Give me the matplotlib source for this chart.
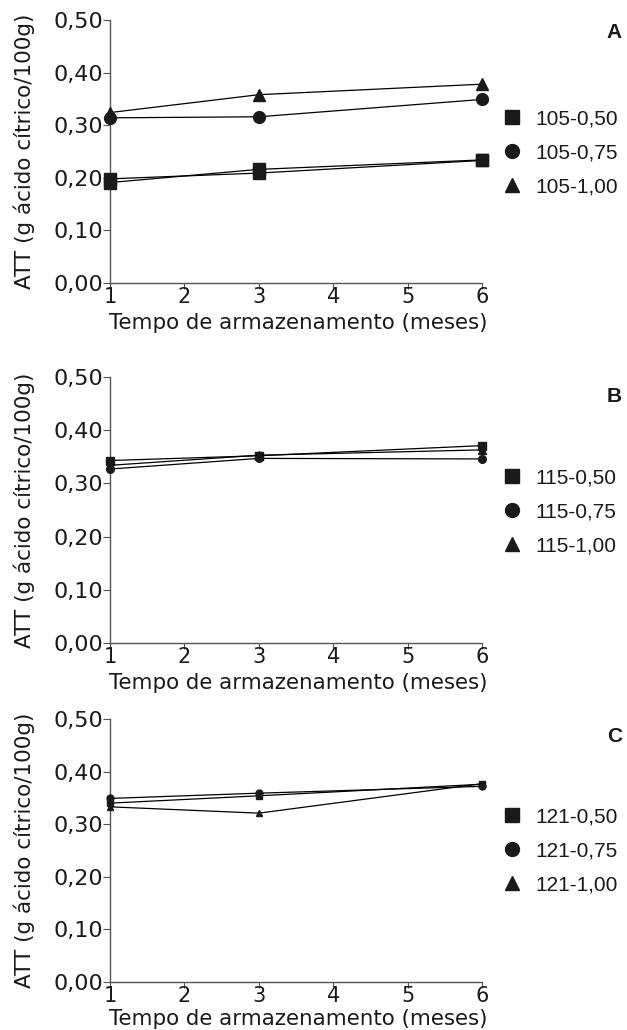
import matplotlib
matplotlib.use("Agg")
import matplotlib.pyplot as plt
from matplotlib.lines import Line2D
from matplotlib.ticker import FuncFormatter

plt.rcParams['font.family'] = ['Liberation Sans', 'DejaVu Sans']

# meses de armazenamento
meses = [1, 3, 6]

# painel A (105 C)
a_050 = [0.198, 0.209, 0.233]
a_050b = [0.191, 0.216, 0.234]
a_075 = [0.314, 0.316, 0.349]
a_100 = [0.324, 0.358, 0.378]

# painel B (115 C)
b_050 = [0.343, 0.352, 0.371]
b_075 = [0.327, 0.347, 0.346]
b_100 = [0.334, 0.353, 0.363]

# painel C (121 C)
c_050 = [0.340, 0.354, 0.376]
c_075 = [0.349, 0.359, 0.372]
c_100 = [0.333, 0.321, 0.377]

yticks = [0.0, 0.1, 0.2, 0.3, 0.4, 0.5]
xticks = [1, 2, 3, 4, 5, 6]

paineis = [
    ("A", "105", [(a_050, 's'), (a_050b, 's'), (a_075, 'o'), (a_100, '^')], 8.5),
    ("B", "115", [(b_050, 's'), (b_075, 'o'), (b_100, '^')], 5.5),
    ("C", "121", [(c_050, 's'), (c_075, 'o'), (c_100, '^')], 5.0),
]

W, H = 627, 1030
fig = plt.figure(figsize=(W / 100, H / 100), dpi=100)

# (topo, base) de cada eixo em pixels
limites = [(20, 283), (377, 643), (719, 982)]
letra_y = [32, 397, 737]
leg_y = [153, 512, 851]
xlab_y = [-0.113, -0.113, -0.102]

largo = ['DejaVu Sans']

def virgula(v, pos):
    return f"{v:.2f}".replace(".", ",")

for (letra, temp, series, ms), (top, bot), ly, lgy, xy in zip(paineis, limites, letra_y, leg_y, xlab_y):
    ax = fig.add_axes([110 / W, 1 - bot / H, 372 / W, (bot - top) / H])
    for vals, mk in series:
        ax.plot(meses, vals, color='black', lw=0.9, marker=mk, ms=ms,
                mfc='#1a1a1a', mec='#1a1a1a', clip_on=False, zorder=3)
    ax.set_xlim(1, 6)
    ax.set_ylim(0, 0.5)
    ax.set_xticks(xticks)
    ax.set_yticks(yticks)
    ax.yaxis.set_major_formatter(FuncFormatter(virgula))
    for s in ['top', 'right']:
        ax.spines[s].set_visible(False)
    for s in ['left', 'bottom']:
        ax.spines[s].set_color('#555555')
        ax.spines[s].set_linewidth(1.0)
    ax.tick_params(axis='y', direction='out', length=5, width=0.8, color='#555555',
                   pad=0, labelcolor='#1a1a1a')
    ax.tick_params(axis='x', direction='out', length=4, width=0.8, color='#555555',
                   pad=-1, labelcolor='#1a1a1a')
    for t in ax.get_yticklabels():
        t.set_fontfamily(largo)
        t.set_fontsize(16)
    for t in ax.get_xticklabels():
        t.set_fontfamily(largo)
        t.set_fontsize(15)
    ax.set_xlabel("Tempo de armazenamento (meses)", fontsize=15.4,
                  family=largo, color='#1a1a1a')
    ax.xaxis.set_label_coords(0.505, xy)
    ax.set_ylabel("ATT (g ácido cítrico/100g)", fontsize=15.5,
                  family=largo, color='#1a1a1a')
    ax.yaxis.set_label_coords(-0.202, 0.5)

    fig.text(622 / W, 1 - ly / H, letra, fontsize=15, fontweight='bold',
             ha='right', va='center', color='#1a1a1a')

    handles = [Line2D([], [], ls='none', marker=m, ms=10, color='#1a1a1a')
               for m in ['s', 'o', '^']]
    labels = [f"{temp}-0,50", f"{temp}-0,75", f"{temp}-1,00"]
    fig.legend(handles, labels, loc='center left',
               bbox_to_anchor=(502 / W, 1 - lgy / H), frameon=False,
               fontsize=15, handlelength=1.0, handletextpad=0.6,
               labelspacing=0.72, borderpad=0, borderaxespad=0,
               labelcolor='#1a1a1a')

fig.savefig("out.png", dpi=100)
